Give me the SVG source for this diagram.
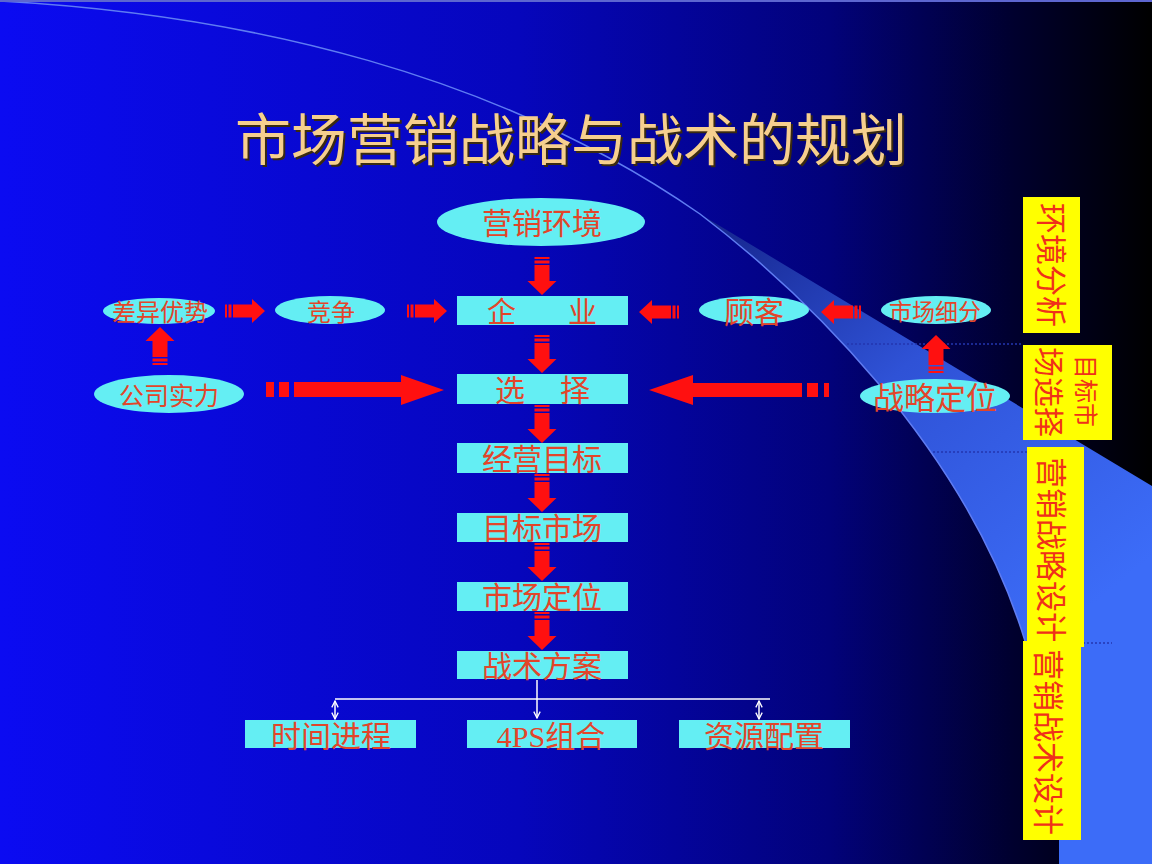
<svg xmlns="http://www.w3.org/2000/svg" width="1152" height="864" viewBox="0 0 1152 864">
<defs>
<linearGradient id="bg" x1="0" y1="0" x2="1" y2="0">
<stop offset="0" stop-color="#0b0bf2"/>
<stop offset="0.45" stop-color="#0606bc"/>
<stop offset="0.72" stop-color="#02027a"/>
<stop offset="0.88" stop-color="#00002e"/>
<stop offset="1" stop-color="#000000"/>
</linearGradient>
<linearGradient id="band" gradientUnits="userSpaceOnUse" x1="700" y1="214" x2="1050" y2="640">
<stop offset="0" stop-color="#14238a"/>
<stop offset="0.45" stop-color="#2f52d6"/>
<stop offset="1" stop-color="#3c6cf8"/>
</linearGradient>
<path id="arrowH" d="M0,-6.5h2v13h-2z M3.5,-6.5h3v13h-3z M8,-6.5H27V-12L40,0L27,12V6.5H8z"/>
<path id="arrowV" d="M0,-7.5h2v15h-2z M3.5,-7.5h3v15h-3z M8,-7.5H24V-14.5L38,0L24,14.5V7.5H8z"/>
<marker id="wh" viewBox="0 0 10 10" refX="9" refY="5" markerWidth="8" markerHeight="8" orient="auto-start-reverse" markerUnits="userSpaceOnUse">
<path d="M1,1L9,5L1,9" fill="none" stroke="#ffffff" stroke-width="1.6"/>
</marker>
<style>
.cy{fill:#64eef3}
.yl{fill:#ffff00}
.t{font-family:'Liberation Serif','Noto Sans CJK SC',serif;fill:#e2452a;text-anchor:middle}
.ts{text-anchor:start}
.vt{font-family:'Noto Sans CJK SC',sans-serif;fill:#f0301a;text-anchor:middle}
.ar{fill:#ff1010}
.wl{stroke:#ffffff;stroke-width:1.5;fill:none}
.dot{stroke:#2336b0;stroke-width:1.5;stroke-dasharray:2 2;fill:none}
</style>
</defs>

<g id="background">
<rect x="0" y="0" width="1152" height="864" fill="url(#bg)"/>
<path d="M700,214 L1152,486 L1152,864 L1059,864 L1059,641 L1025,641 C965,445 800,290 700,214 Z" fill="url(#band)"/>
<path d="M0,1 C250,15 500,75 700,214 C800,290 965,445 1025,641" fill="none" stroke="#5f7cf2" stroke-width="1.5"/>
<line x1="0" y1="1" x2="1152" y2="1" stroke="#5d66d0" stroke-width="2"/>
<line class="dot" x1="847" y1="344" x2="1023" y2="344"/>
<line class="dot" x1="933" y1="452" x2="1027" y2="452"/>
<line class="dot" x1="1083" y1="643" x2="1112" y2="643"/>
</g>

<g id="title">
<text x="573" y="162" font-family="'Noto Sans CJK SC',sans-serif" font-size="56" fill="#3a2a10" text-anchor="middle">市场营销战略与战术的规划</text>
<text x="571" y="160" font-family="'Noto Sans CJK SC',sans-serif" font-size="56" fill="#f6cf8e" text-anchor="middle">市场营销战略与战术的规划</text>
</g>

<g id="connectors">
<use href="#arrowV" class="ar" transform="translate(542,257) rotate(90)"/>
<use href="#arrowV" class="ar" transform="translate(542,335) rotate(90)"/>
<use href="#arrowV" class="ar" transform="translate(542,405) rotate(90)"/>
<use href="#arrowV" class="ar" transform="translate(542,474) rotate(90)"/>
<use href="#arrowV" class="ar" transform="translate(542,543) rotate(90)"/>
<use href="#arrowV" class="ar" transform="translate(542,612) rotate(90)"/>
<use href="#arrowH" class="ar" transform="translate(225,311)"/>
<use href="#arrowH" class="ar" transform="translate(407,311)"/>
<use href="#arrowH" class="ar" transform="translate(679,312) rotate(180)"/>
<use href="#arrowH" class="ar" transform="translate(861,312) rotate(180)"/>
<use href="#arrowV" class="ar" transform="translate(160,365) rotate(-90)"/>
<use href="#arrowV" class="ar" transform="translate(936,373) rotate(-90)"/>
<path class="ar" d="M266,382h8v15h-8z M279,382h10v15h-10z M294,382H401V375L444,390L401,405V397H294z"/>
<path class="ar" d="M824,383h5v14h-5z M807,383h11v14h-11z M802,383H693V375L649,390L693,405V397H802z"/>
<line class="wl" x1="537" y1="680" x2="537" y2="718" marker-end="url(#wh)"/>
<line class="wl" x1="335" y1="699" x2="770" y2="699"/>
<line class="wl" x1="335" y1="701" x2="335" y2="719" marker-start="url(#wh)" marker-end="url(#wh)"/>
<line class="wl" x1="759" y1="701" x2="759" y2="719" marker-start="url(#wh)" marker-end="url(#wh)"/>
</g>

<g id="n-yingxiaohuanjing">
<ellipse class="cy" cx="541" cy="222" rx="104" ry="24"/>
<text class="t" x="542" y="234" font-size="30">营销环境</text>
</g>
<g id="n-chayiyoushi">
<ellipse class="cy" cx="159" cy="311" rx="56" ry="13"/>
<text class="t" x="160" y="321" font-size="24">差异优势</text>
</g>
<g id="n-jingzheng">
<ellipse class="cy" cx="330" cy="310" rx="55" ry="14"/>
<text class="t" x="331" y="321" font-size="24">竞争</text>
</g>
<g id="n-qiye">
<rect class="cy" x="457" y="296" width="171" height="29"/>
<text class="t ts" x="487" y="323" font-size="29">企<tspan dx="52">业</tspan></text>
</g>
<g id="n-guke">
<ellipse class="cy" cx="754" cy="310" rx="55" ry="14"/>
<text class="t" x="754" y="323" font-size="30">顾客</text>
</g>
<g id="n-shichangxifen">
<ellipse class="cy" cx="936" cy="310" rx="55" ry="14"/>
<text class="t" x="935" y="320" font-size="23">市场细分</text>
</g>
<g id="n-gongsishili">
<ellipse class="cy" cx="169" cy="394" rx="75" ry="19"/>
<text class="t" x="169" y="405" font-size="25">公司实力</text>
</g>
<g id="n-xuanze">
<rect class="cy" x="457" y="374" width="171" height="30"/>
<text class="t ts" x="495" y="401" font-size="30">选<tspan dx="35">择</tspan></text>
</g>
<g id="n-zhanlvedingwei">
<ellipse class="cy" cx="935" cy="396" rx="75" ry="17"/>
<text class="t" x="935" y="409" font-size="31">战略定位</text>
</g>
<g id="n-jingyingmubiao">
<rect class="cy" x="457" y="443" width="171" height="30"/>
<text class="t" x="542" y="470" font-size="30">经营目标</text>
</g>
<g id="n-mubiaoshichang">
<rect class="cy" x="457" y="513" width="171" height="29"/>
<text class="t" x="542" y="539" font-size="30">目标市场</text>
</g>
<g id="n-shichangdingwei">
<rect class="cy" x="457" y="582" width="171" height="29"/>
<text class="t" x="542" y="608" font-size="30">市场定位</text>
</g>
<g id="n-zhanshufangan">
<rect class="cy" x="457" y="651" width="171" height="28"/>
<text class="t" x="542" y="677" font-size="30">战术方案</text>
</g>
<g id="n-shijianjincheng">
<rect class="cy" x="245" y="720" width="171" height="28"/>
<text class="t" x="331" y="747" font-size="30">时间进程</text>
</g>
<g id="n-4ps">
<rect class="cy" x="467" y="720" width="170" height="28"/>
<text class="t" x="551" y="747" font-size="30">4PS组合</text>
</g>
<g id="n-ziyuanpeizhi">
<rect class="cy" x="679" y="720" width="171" height="28"/>
<text class="t" x="764" y="747" font-size="30">资源配置</text>
</g>

<g id="s-huanjingfenxi">
<rect class="yl" x="1023" y="197" width="57" height="136"/>
<text class="vt" font-size="31" transform="translate(1051,265) rotate(90)" x="0" y="11">环境分析</text>
</g>
<g id="s-mubiaoshichangxuanze">
<rect class="yl" x="1023" y="345" width="89" height="95"/>
<text class="vt" font-size="24" transform="translate(1086,391) rotate(90)" x="0" y="9">目标市</text>
<text class="vt" font-size="30" transform="translate(1049,392) rotate(90)" x="0" y="11">场选择</text>
</g>
<g id="s-yingxiaozhanluesheji">
<rect class="yl" x="1027" y="447" width="57" height="200"/>
<text class="vt" font-size="31" transform="translate(1051,550) rotate(90)" x="0" y="11">营销战略设计</text>
</g>
<g id="s-yingxiaozhanshusheji">
<rect class="yl" x="1023" y="641" width="58" height="199"/>
<text class="vt" font-size="31" transform="translate(1048,742) rotate(90)" x="0" y="11">营销战术设计</text>
</g>
</svg>
